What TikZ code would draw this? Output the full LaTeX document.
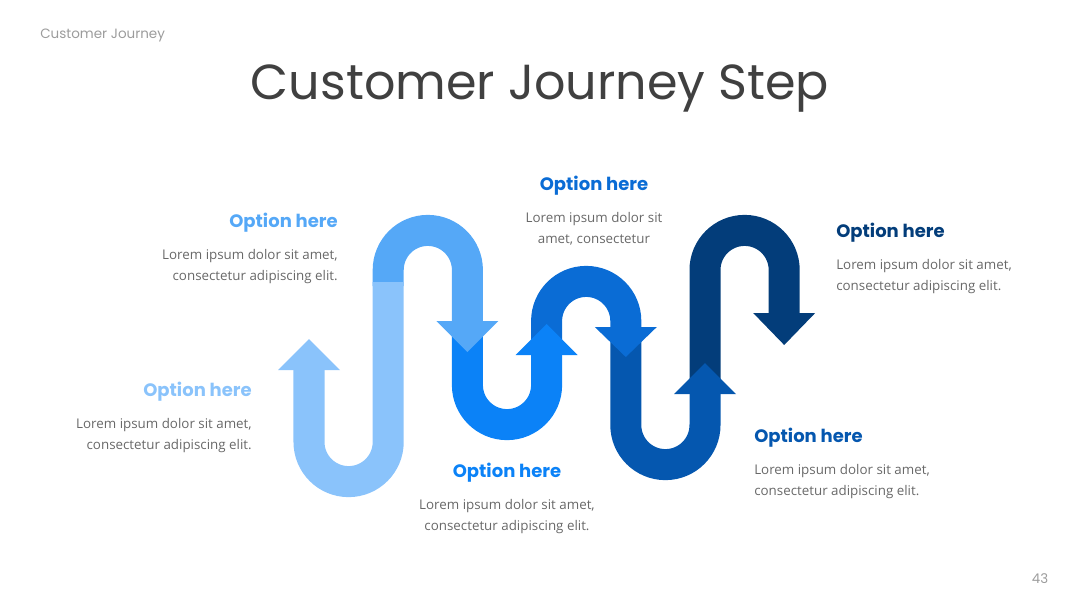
\documentclass[tikz,border=0pt]{standalone}
\usepackage{fontspec}
\newfontfamily\poppins{Poppins}
\newfontfamily\opensans{Open Sans}
\usetikzlibrary{positioning}
\definecolor{stepA}{HTML}{8AC3FB}
\definecolor{stepB}{HTML}{55A8F7}
\definecolor{stepC}{HTML}{0B82F7}
\definecolor{stepD}{HTML}{0A6CD5}
\definecolor{stepE}{HTML}{0557AF}
\definecolor{stepF}{HTML}{033D7A}
\definecolor{titlegray}{HTML}{404040}
\definecolor{bodygray}{HTML}{686868}
\definecolor{lightgray}{HTML}{9C9C9C}

\begin{document}
\begin{tikzpicture}[x=0.025cm,y=-0.025cm,
  band/.style={line width=0.775cm},
  opt/.style={font=\poppins\bfseries\fontsize{12.8}{15}\selectfont, inner sep=0pt},
  lorem/.style={font=\opensans\fontsize{9.5}{15}\selectfont, text=bodygray, inner sep=0pt}]
\useasboundingbox (0,0) rectangle (1080,608);

\node (hdr) [anchor=base west, inner sep=0pt, text=lightgray, font=\poppins\fontsize{9.6}{12}\selectfont] at (40,38) {Customer Journey};
\node (title) [anchor=base, inner sep=0pt, text=titlegray, font=\poppins\fontsize{35}{40}\selectfont] at (540,99) {Customer Journey Step};

% the road, last step first so each head lies on the next band
\draw[band,stepF] (705,382) -- (705,270) arc[start angle=180,end angle=360,radius=39.6] -- (784.2,314);
\fill[stepF] (753.2,313) -- (815.2,313) -- (784.2,345) -- cycle;
\draw[band,stepE] (625.8,337) -- (625.8,425) arc[start angle=180,end angle=0,radius=39.6] -- (705,393);
\fill[stepE] (674,394) -- (736,394) -- (705,363) -- cycle;
\draw[band,stepD] (546.6,345) -- (546.6,321) arc[start angle=180,end angle=360,radius=39.6] -- (625.8,328);
\fill[stepD] (594.8,327) -- (656.8,327) -- (625.8,357) -- cycle;
\draw[band,stepC] (467.4,332) -- (467.4,385) arc[start angle=180,end angle=0,radius=39.6] -- (546.6,354);
\fill[stepC] (515.6,355) -- (577.6,355) -- (546.6,324) -- cycle;
\draw[band,stepB] (388.2,286) -- (388.2,270) arc[start angle=180,end angle=360,radius=39.6] -- (467.4,322);
\fill[stepB] (436.4,321) -- (498.4,321) -- (467.4,352) -- cycle;
\draw[band,stepA] (309,369) -- (309,442) arc[start angle=180,end angle=0,radius=39.6] -- (388.2,282);
\fill[stepA] (278,370) -- (340,370) -- (309,339) -- cycle;

\node (opt1) [opt, text=stepA, anchor=base east] at (252,396) {Option here};
\node (txt1) [lorem, align=right, below left=12pt and 0pt of opt1.south east] {Lorem ipsum dolor sit amet,\\consectetur adipiscing elit.};

\node (opt2) [opt, text=stepB, anchor=base east] at (338,227) {Option here};
\node (txt2) [lorem, align=right, below left=12pt and 0pt of opt2.south east] {Lorem ipsum dolor sit amet,\\consectetur adipiscing elit.};

\node (opt3) [opt, text=stepC, anchor=base] at (507,477) {Option here};
\node (txt3) [lorem, align=center, below=12pt of opt3] {Lorem ipsum dolor sit amet,\\consectetur adipiscing elit.};

\node (opt4) [opt, text=stepD, anchor=base] at (594,190) {Option here};
\node (txt4) [lorem, align=center, below=12pt of opt4] {Lorem ipsum dolor sit\\amet, consectetur};

\node (opt5) [opt, text=stepE, anchor=base west] at (754,442) {Option here};
\node (txt5) [lorem, align=left, below right=12pt and 0pt of opt5.south west] {Lorem ipsum dolor sit amet,\\consectetur adipiscing elit.};

\node (opt6) [opt, text=stepF, anchor=base west] at (836,237) {Option here};
\node (txt6) [lorem, align=left, below right=12pt and 0pt of opt6.south west] {Lorem ipsum dolor sit amet,\\consectetur adipiscing elit.};

\node (pg) [anchor=base, inner sep=0pt, text=lightgray, font=\poppins\fontsize{9.5}{12}\selectfont] at (1040,583) {43};
\end{tikzpicture}
\end{document}
